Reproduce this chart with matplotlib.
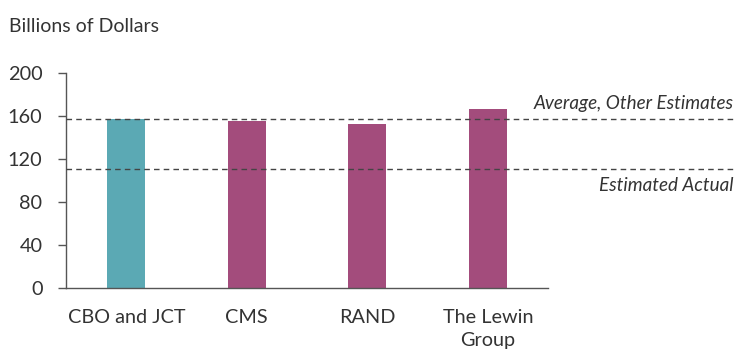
import matplotlib.pyplot as plt

plt.rcParams['font.family'] = ['Lato', 'DejaVu Sans']

labels = ["CBO and JCT", "CMS", "RAND", "The Lewin\nGroup"]
values = [157.5, 155, 152.5, 166.5]
colors = ["#5BA9B4", "#A34C7C", "#A34C7C", "#A34C7C"]
avg_other = 157.5
est_actual = 111
text_col = "#333333"

fig = plt.figure(figsize=(7.35, 3.56), dpi=100)
ax = fig.add_axes([0.0898, 0.191, 0.6558, 0.604])

x = range(len(labels))
ax.bar(x, values, width=0.315, color=colors, zorder=2)
ax.set_xlim(-0.5, 3.5)
ax.set_ylim(0, 200)
ax.set_yticks([0, 40, 80, 120, 160, 200])
ax.set_xticks(list(x))
ax.set_xticklabels(labels, fontsize=14.3, color=text_col, linespacing=1.45)
ax.tick_params(axis='x', length=0, pad=15)
ax.tick_params(axis='y', labelsize=14.3, labelcolor=text_col, color="#555555",
               length=6, width=1, pad=11)
for s in ["top", "right"]:
    ax.spines[s].set_visible(False)
for s in ["left", "bottom"]:
    ax.spines[s].set_color("#555555")
    ax.spines[s].set_linewidth(1)

ax.axhline(avg_other, xmin=0, xmax=1.39, color="#444444", lw=1, ls=(0, (4, 3)),
           clip_on=False, zorder=3)
ax.axhline(est_actual, xmin=0, xmax=1.39, color="#444444", lw=1, ls=(0, (4, 3)),
           clip_on=False, zorder=3)

fig.text(0.998, 0.71, "Average, Other Estimates", ha="right", va="center",
         fontsize=13.6, style="italic", color=text_col)
fig.text(0.998, 0.478, "Estimated Actual", ha="right", va="center",
         fontsize=13.6, style="italic", color=text_col)
fig.text(0.012, 0.925, "Billions of Dollars", ha="left", va="center",
         fontsize=14, color=text_col)

fig.savefig("out.png", dpi=100)
